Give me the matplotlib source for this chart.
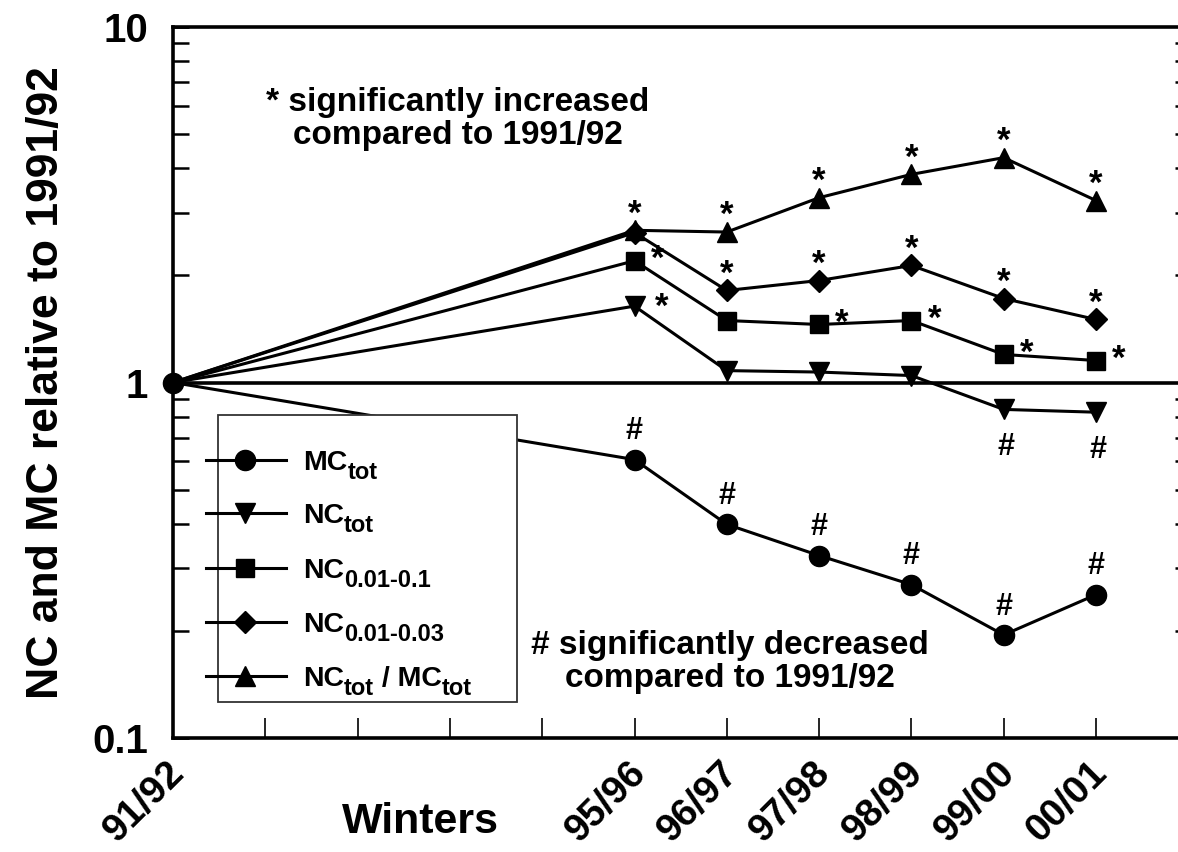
import matplotlib
matplotlib.use("Agg")
import matplotlib.pyplot as plt
from matplotlib.ticker import LogLocator, NullFormatter, FixedLocator, FixedFormatter
from matplotlib.lines import Line2D
from matplotlib.patches import Rectangle
import matplotlib.transforms as mtransforms

# ---------------- data ----------------
winter_pos = [0, 5, 6, 7, 8, 9, 10]
mc_tot = [1.0, 0.607, 0.399, 0.326, 0.270, 0.195, 0.253]
nc_tot = [1.0, 1.64, 1.08, 1.07, 1.046, 0.84, 0.825]
nc_001_01 = [1.0, 2.20, 1.494, 1.456, 1.494, 1.199, 1.153]
nc_001_003 = [1.0, 2.64, 1.815, 1.936, 2.134, 1.723, 1.504]
nc_mc_ratio = [1.0, 2.68, 2.65, 3.31, 3.85, 4.29, 3.25]

sig_mc = ['', '#', '#', '#', '#', '#', '#']
sig_nc = ['', '*', '', '', '', '#', '#']
sig_nc01 = ['', '*', '', '*', '*', '*', '*']
sig_nc003 = ['', '', '*', '*', '*', '*', '*']
sig_ratio = ['', '*', '*', '*', '*', '*', '*']

x_tick_positions = list(range(0, 11))
x_tick_labels = ['91/92', '', '', '', '', '95/96', '96/97', '97/98', '98/99', '99/00', '00/01']
y_ticks = [0.1, 1, 10]
y_tick_labels = ['0.1', '1', '10']

# legend labels as (text, is_subscript) pieces
labels = [
    [('MC', False), ('tot', True)],
    [('NC', False), ('tot', True)],
    [('NC', False), ('0.01-0.1', True)],
    [('NC', False), ('0.01-0.03', True)],
    [('NC', False), ('tot', True), (' / MC', False), ('tot', True)],
]

# ---------------- style ----------------
plt.rcParams['font.family'] = ['Liberation Sans', 'DejaVu Sans']
plt.rcParams['font.weight'] = 'bold'

FW, FH = 1178, 852
fig = plt.figure(figsize=(FW / 100, FH / 100), dpi=100)

ax_left, ax_top, ax_bottom = 173, 27, 738
x_right_lim = 11.03
px_per_unit = 92.3
ax_w = x_right_lim * px_per_unit
ax = fig.add_axes([ax_left / FW, (FH - ax_bottom) / FH, ax_w / FW, (ax_bottom - ax_top) / FH])
ax.set_xlim(0, x_right_lim)
ax.set_yscale('log')
ax.set_ylim(0.1, 10)


def fxy(px, py):
    return px / FW, 1 - py / FH


LW = 2.2
series = [
    (mc_tot, 'o', 14.5, sig_mc, True),
    (nc_tot, 'v', 15, sig_nc, False),
    (nc_001_01, 's', 12.5, sig_nc01, False),
    (nc_001_003, 'D', 11, sig_nc003, False),
    (nc_mc_ratio, '^', 15, sig_ratio, False),
]
# glyph-centre offsets (pixels) of significance marks relative to the point
sig_offsets = [
    {'#': (0, 31)},
    {'*': (27, 9), '#': (2, -35)},
    {'*': (23, 12)},
    {'*': (0, 27)},
    {'*': (0, 27)},
]
STAR_FS, HASH_FS = 25, 22
glyph_center = {'*': 0.58 * STAR_FS * 100 / 72, '#': 0.35 * HASH_FS * 100 / 72}

ax.axhline(1, color='black', lw=2.6, zorder=2)

for (vals, mk, ms, sig, first), offs in zip(series, sig_offsets):
    ax.plot(winter_pos, vals, color='black', lw=LW, marker=mk, ms=ms,
            markeredgewidth=1, markevery=(slice(0, None) if first else slice(1, None)),
            zorder=4, clip_on=False)
    for xv, yv, s in zip(winter_pos, vals, sig):
        if not s:
            continue
        dx, dy = offs[s]
        ax.annotate(s, xy=(xv, yv), xytext=(dx, dy - glyph_center[s]),
                    textcoords='offset pixels', ha='center', va='baseline',
                    fontsize=STAR_FS if s == '*' else HASH_FS,
                    fontweight='bold', zorder=5)

# ---------------- axes / ticks ----------------
for side in ['left', 'bottom', 'top', 'right']:
    ax.spines[side].set_linewidth(2.6)

ax.xaxis.set_major_locator(FixedLocator(x_tick_positions))
ax.xaxis.set_major_formatter(FixedFormatter(x_tick_labels))
ax.tick_params(axis='x', which='major', direction='in', length=14.5, width=1.2,
               top=False, bottom=True, pad=21, labelsize=28)
shift = mtransforms.ScaledTranslation(6 / 100, 0, fig.dpi_scale_trans)
for lab in ax.get_xticklabels():
    lab.set_rotation(45)
    lab.set_ha('right')
    lab.set_va('center')
    lab.set_rotation_mode('anchor')
    lab.set_fontweight('bold')
    lab.set_transform(lab.get_transform() + shift)

ax.yaxis.set_major_locator(FixedLocator(y_ticks))
ax.yaxis.set_major_formatter(FixedFormatter(y_tick_labels))
ax.yaxis.set_minor_locator(LogLocator(base=10, subs=[2, 3, 4, 5, 6, 7, 8, 9]))
ax.yaxis.set_minor_formatter(NullFormatter())
ax.tick_params(axis='y', which='major', direction='in', length=11.5, width=2,
               left=True, right=False, pad=18, labelsize=29)
ax.tick_params(axis='y', which='minor', direction='in', length=11.5, width=1.8,
               left=True, right=True)
for lab in ax.get_yticklabels():
    lab.set_fontweight('bold')

ax.set_ylabel('NC and MC relative to 1991/92', fontsize=32, fontweight='bold', va='center')
ax.yaxis.set_label_coords((47 - ax_left) / ax_w, 0.5)
ax.set_xlabel('Winters', fontsize=31, fontweight='bold')
ax.xaxis.set_label_coords((420 - ax_left) / ax_w, -(822 - ax_bottom) / (ax_bottom - ax_top))
ax.xaxis.label.set_va('center')

# ---------------- annotations ----------------
fig.text(*fxy(458, 119), '* significantly increased\ncompared to 1991/92',
         ha='center', va='center', multialignment='center', fontsize=24,
         fontweight='bold', linespacing=1.12)
fig.text(*fxy(730, 662), '# significantly decreased\ncompared to 1991/92',
         ha='center', va='center', multialignment='center', fontsize=24,
         fontweight='bold', linespacing=1.12)

# ---------------- legend (drawn manually) ----------------
bx0, by0, bx1, by1 = 218, 415, 517, 702
ax.add_patch(Rectangle(fxy(bx0, by1), (bx1 - bx0) / FW, (by1 - by0) / FH,
                       transform=fig.transFigure, facecolor='white',
                       edgecolor='#333333', lw=1.3, zorder=10, clip_on=False))
rows = [460, 513, 568, 622, 676]
MAIN_FS, SUB_FS = 20.5, 17
for (vals, mk, ms, sig, first), pieces, ry in zip(series, labels, rows):
    ax.add_line(Line2D([206 / FW, 286 / FW], [1 - ry / FH] * 2, transform=fig.transFigure,
                       color='black', lw=LW, zorder=11, clip_on=False))
    ax.add_line(Line2D([245 / FW], [1 - ry / FH], transform=fig.transFigure, color='black',
                       marker=mk, ms=ms, markeredgewidth=1, lw=0, zorder=12, clip_on=False))
    base_y = 1 - (ry + 10) / FH
    prev = None
    for txt, is_sub in pieces:
        fs = SUB_FS if is_sub else MAIN_FS
        dy = -9 if is_sub else 0
        if prev is None:
            prev = ax.annotate(txt, xy=(303 / FW, base_y), xycoords='figure fraction',
                               xytext=(0, dy), textcoords='offset pixels',
                               fontsize=fs, fontweight='bold', ha='left', va='baseline',
                               zorder=13, annotation_clip=False)
        else:
            prev = ax.annotate(txt, xy=(1, base_y), xycoords=(prev, 'figure fraction'),
                               xytext=(0, dy), textcoords='offset pixels',
                               fontsize=fs, fontweight='bold', ha='left', va='baseline',
                               zorder=13, annotation_clip=False)

fig.savefig('out.png', dpi=100)
